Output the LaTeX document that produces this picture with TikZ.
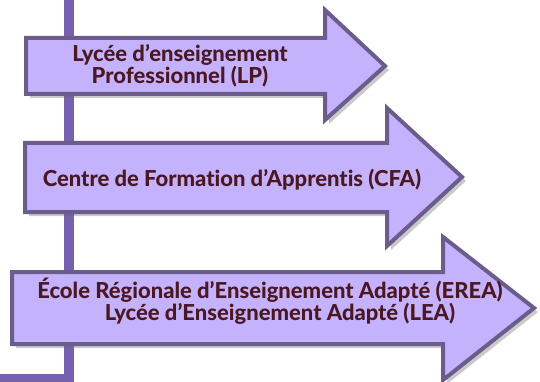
\documentclass[tikz,border=0pt]{standalone}
\usepackage{fontspec}
\setmainfont{Lato}[Ligatures=NoCommon, BoldFont={Lato Heavy}]
\usepackage{xcolor}
\usepackage{tikz}
\usetikzlibrary{shadows}

\definecolor{arrowfill}{HTML}{C4B3FC}
\definecolor{arrowedge}{HTML}{6C5C8C}
\definecolor{barline}{HTML}{7860B0}
\definecolor{labeltext}{HTML}{4A1722}

\begin{document}
\begin{tikzpicture}[x=1pt,y=-1pt,
    arrowbox/.style={fill=arrowfill, draw=arrowedge, line width=4pt, line join=miter,
        drop shadow={shadow xshift=4pt, shadow yshift=-4pt, opacity=0.35, fill=black!60}},
    label/.style={text=labeltext, font=\bfseries\fontsize{22}{21}\selectfont, align=center, inner sep=0pt}]

    \useasboundingbox (0,0) rectangle (540,382);

    % timeline
    \draw[barline, line width=10pt] (69,-5) -- (69,379) -- (-5,379);

    % LP
    \draw[arrowbox] (26,38) -- (325,38) -- (325,10) -- (385,66) -- (325,120) -- (325,94) -- (26,94) -- cycle;
    \node[label] (lp) at (180,66) {Lycée d’enseignement\\Professionnel (LP)};

    % CFA
    \draw[arrowbox] (25,143) -- (387,143) -- (387,108) -- (462,177) -- (387,246) -- (387,212) -- (25,212) -- cycle;
    \node[label] (cfa) at (232,180) {Centre de Formation d’Apprentis (CFA)};

    % EREA / LEA
    \draw[arrowbox] (12,272) -- (443,272) -- (443,237) -- (534,308) -- (443,380) -- (443,344) -- (12,344) -- cycle;
    \node[label] (erea) at (270,301) {École Régionale d’Enseignement Adapté (EREA)\\\hspace*{20pt}Lycée d’Enseignement Adapté (LEA)};

\end{tikzpicture}
\end{document}
